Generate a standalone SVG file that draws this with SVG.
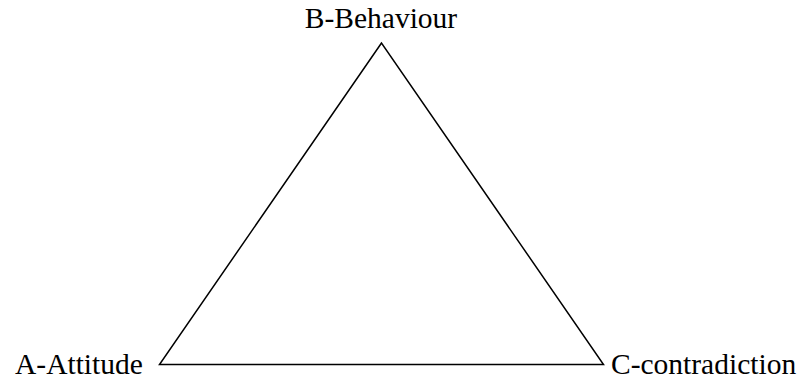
<svg xmlns="http://www.w3.org/2000/svg" width="804" height="379" viewBox="0 0 804 379">
<style>
.lbl{font-family:"Liberation Serif","Times New Roman",serif;font-size:29.5px;fill:#000}
.edge{fill:none;stroke:#000;stroke-width:1.5}
</style>
<rect width="804" height="379" fill="#fff"/>
<g id="connectors">
<polygon class="edge" points="381.5,43 159.5,364.5 603.5,364.5"/>
</g>
<g id="node-b"><text class="lbl" x="381" y="28" text-anchor="middle">B-Behaviour</text></g>
<g id="node-a"><text class="lbl" x="15" y="374">A-Attitude</text></g>
<g id="node-c"><text class="lbl" x="611" y="374">C-contradiction</text></g>
</svg>
